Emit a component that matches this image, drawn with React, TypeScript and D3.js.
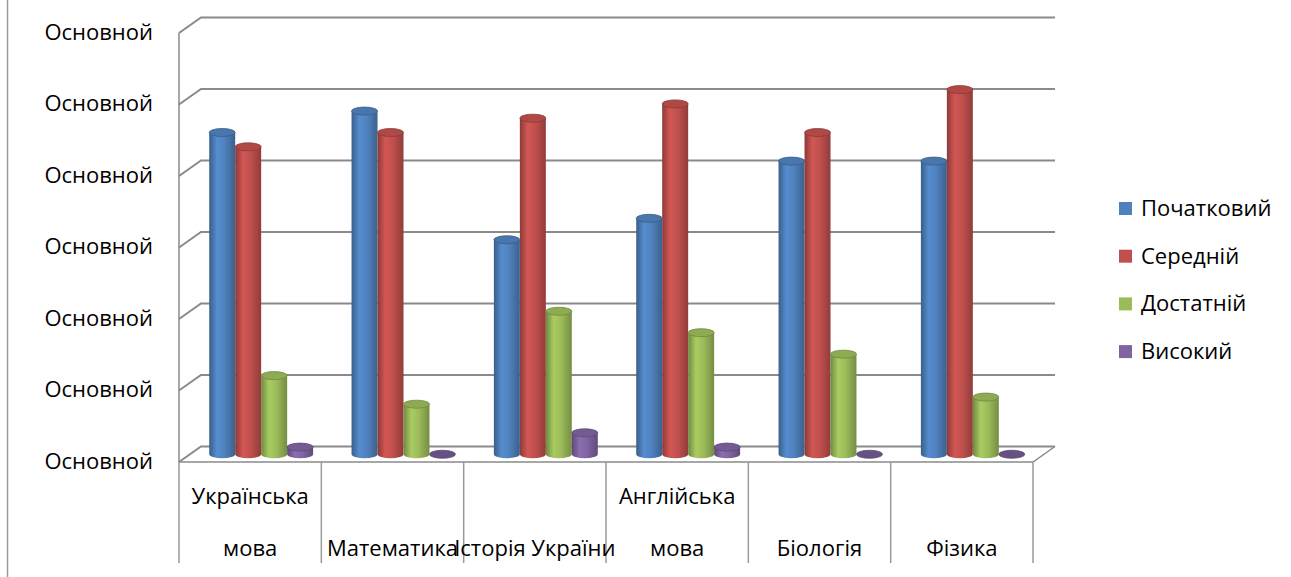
import React, { useEffect, useRef } from 'react';
import * as d3 from 'd3';

const categories = ['Українська\nмова', 'Математика', 'Історія України', 'Англійська\nмова', 'Біологія', 'Фізика'];
const seriesNames = ['Початковий', 'Середній', 'Достатній', 'Високий'];
const seriesColors = ['#4F81BD', '#C0504D', '#9BBB59', '#8064A2'];
const pochatkovyi = [45, 48, 30, 33, 41, 41];
const serednii = [43, 45, 47, 49, 45, 51];
const dostatnii = [11, 7, 20, 17, 14, 8];
const vysokyi = [1, 0, 3, 1, 0, 0];
const yTicks = [0, 10, 20, 30, 40, 50, 60];
const yTickLabel = 'Основной';

const App: React.FC = () => {
  const ref = useRef<SVGSVGElement | null>(null);

  useEffect(() => {
    const width = 1291;
    const height = 577;
    const font = '"Open Sans", "Noto Sans", sans-serif';
    const fontSize = '22px';
    const series = [pochatkovyi, serednii, dostatnii, vysokyi];

    const svg = d3.select(ref.current)
      .attr('viewBox', `0 0 ${width} ${height}`)
      .attr('width', width)
      .attr('height', height)
      .style('position', 'absolute')
      .style('left', 0)
      .style('top', 0)
      .style('background', '#ffffff');
    svg.selectAll('*').remove();

    // depth of the 3d box: front plane -> back wall
    const depthX = 22;
    const depthY = -15.5;

    const x = d3.scaleBand<string>().domain(categories).range([179, 1033]);
    const y = d3.scaleLinear().domain([0, 60]).range([462, 33]);
    const xs = d3.scaleBand<string>().domain(seriesNames).range([0, x.bandwidth()]).paddingOuter(0.74);

    const defs = svg.append('defs');
    seriesColors.forEach((c, i) => {
      const g = defs.append('linearGradient')
        .attr('id', `cyl${i}`)
        .attr('x1', 0).attr('x2', 1).attr('y1', 0).attr('y2', 0);
      const base = d3.color(c)!;
      g.append('stop').attr('offset', '0%').attr('stop-color', base.darker(0.9).formatHex());
      g.append('stop').attr('offset', '30%').attr('stop-color', base.brighter(0.25).formatHex());
      g.append('stop').attr('offset', '60%').attr('stop-color', base.formatHex());
      g.append('stop').attr('offset', '100%').attr('stop-color', base.darker(0.8).formatHex());
    });

    const gridColor = '#8a8a8a';

    // page frame line
    svg.append('line')
      .attr('x1', 7.5).attr('x2', 7.5).attr('y1', 0).attr('y2', height)
      .attr('stroke', '#9a9a9a').attr('stroke-width', 1.5);

    // left side wall edge
    svg.append('line')
      .attr('x1', x.range()[0]).attr('x2', x.range()[0])
      .attr('y1', y(60)).attr('y2', y(0))
      .attr('stroke', gridColor).attr('stroke-width', 1.5);

    // gridlines on back wall with diagonal ticks
    const grid = svg.append('g');
    yTicks.forEach(t => {
      const yf = y(t);
      grid.append('polyline')
        .attr('points', `${x.range()[0]},${yf} ${x.range()[0] + depthX},${yf + depthY} ${x.range()[1] + depthX},${yf + depthY}`)
        .attr('fill', 'none')
        .attr('stroke', gridColor)
        .attr('stroke-width', 2);
    });

    // floor front edge and right side
    svg.append('polyline')
      .attr('points', `${x.range()[0]},${y(0)} ${x.range()[1]},${y(0)} ${x.range()[1] + depthX},${y(0) + depthY}`)
      .attr('fill', 'none')
      .attr('stroke', gridColor)
      .attr('stroke-width', 1.5);

    // y labels
    svg.append('g').selectAll('text')
      .data(yTicks)
      .join('text')
        .attr('x', 153)
        .attr('y', d => y(d) + 1)
        .attr('text-anchor', 'end')
        .attr('dominant-baseline', 'middle')
        .style('font-family', font)
        .style('font-size', fontSize)
        .attr('fill', '#000')
        .text(yTickLabel);

    // category dividers
    const bounds = [...categories.map(c => x(c)!), x.range()[1]];
    svg.append('g').selectAll('line')
      .data(bounds)
      .join('line')
        .attr('x1', d => d).attr('x2', d => d)
        .attr('y1', y(0)).attr('y2', 563)
        .attr('stroke', '#9a9a9a')
        .attr('stroke-width', 1.5);

    // category labels
    const cat = svg.append('g').selectAll('text')
      .data(categories)
      .join('text')
        .attr('text-anchor', 'middle')
        .style('font-family', font)
        .style('font-size', fontSize)
        .attr('fill', '#000');
    cat.each(function (d) {
      const lines = d.split('\n');
      const t = d3.select(this);
      const cx = x(d)! + x.bandwidth() / 2;
      lines.forEach((ln, i) => {
        t.append('tspan')
          .attr('x', cx)
          .attr('y', 556 - (lines.length - 1 - i) * 52)
          .text(ln);
      });
    });

    // cylinders at mid depth
    const midX = depthX / 2;
    const midY = depthY / 2;
    const bars = svg.append('g');
    categories.forEach((c, ci) => {
      series.forEach((vals, si) => {
        const v = vals[ci];
        const bx = x(c)! + xs(seriesNames[si])! + midX;
        const rx = xs.bandwidth() / 2;
        const ry = 4;
        const cx = bx + rx;
        const yb = y(0) + midY;
        const yt = y(v) + midY;
        const g = bars.append('g');
        if (v > 0) {
          g.append('path')
            .attr('d', `M${cx - rx},${yt} L${cx - rx},${yb} A${rx},${ry} 0 0 0 ${cx + rx},${yb} L${cx + rx},${yt} Z`)
            .attr('fill', `url(#cyl${si})`);
        }
        const base = d3.color(seriesColors[si])!;
        g.append('ellipse')
          .attr('cx', cx).attr('cy', yt)
          .attr('rx', rx).attr('ry', ry)
          .attr('fill', (v > 0 ? base.darker(0.25) : base.darker(0.6)).formatHex())
          .attr('stroke', base.darker(0.9).formatHex())
          .attr('stroke-width', 0.8);
      });
    });

    // legend
    const legend = svg.append('g').attr('transform', 'translate(1119,209)');
    const item = legend.selectAll('g')
      .data(seriesNames)
      .join('g')
        .attr('transform', (_, i) => `translate(0, ${i * 47.7})`);
    item.append('rect')
      .attr('x', 0).attr('y', -7)
      .attr('width', 13).attr('height', 13)
      .attr('fill', (_, i) => seriesColors[i]);
    item.append('text')
      .attr('x', 22).attr('y', 1)
      .attr('dominant-baseline', 'middle')
      .style('font-family', font)
      .style('font-size', fontSize)
      .attr('fill', '#000')
      .text(d => d);
  }, []);

  return <svg ref={ref}></svg>;
};

export default App;
